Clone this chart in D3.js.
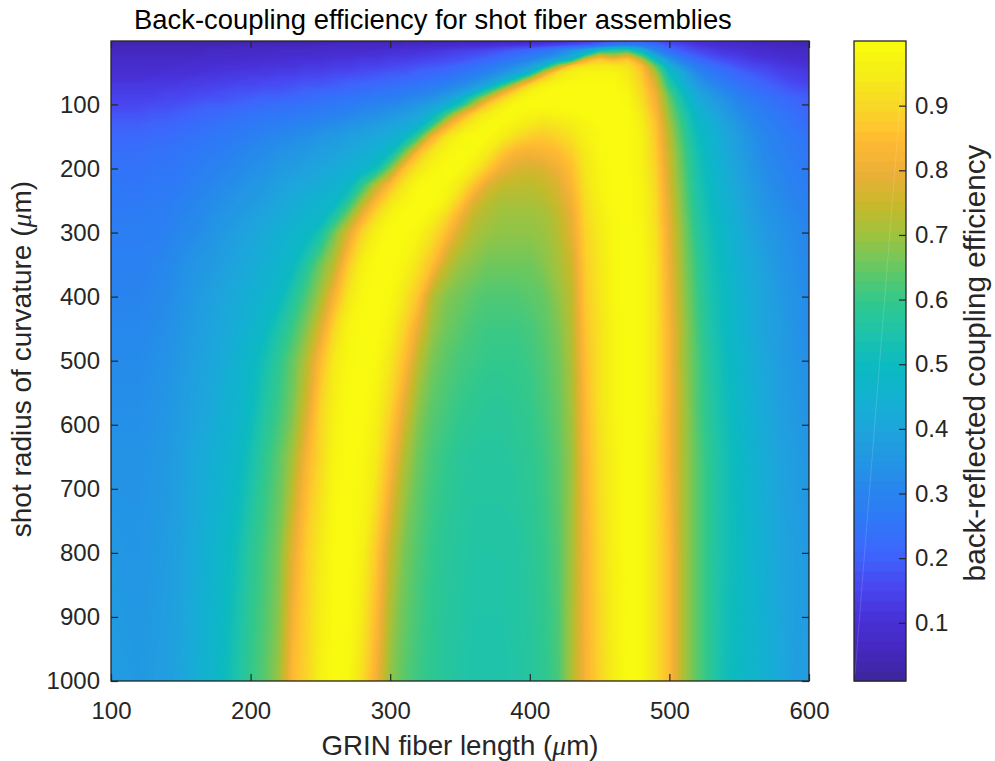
<!DOCTYPE html>
<html>
<head>
<meta charset="utf-8">
<script src="https://cdn.jsdelivr.net/npm/d3@7"></script>
<style>
  html, body { margin: 0; padding: 0; background: #fff; }
  text { font-family: "Liberation Sans", Arial, sans-serif; fill: #262626; }
</style>
</head>
<body>
<script>
// GRIN fiber length samples (um), 100 to 600 every 10
var lengths = [100, 110, 120, 130, 140, 150, 160, 170, 180, 190,
               200, 210, 220, 230, 240, 250, 260, 270, 280, 290,
               300, 310, 320, 330, 340, 350, 360, 370, 380, 390,
               400, 410, 420, 430, 440, 450, 460, 470, 480, 490,
               500, 510, 520, 530, 540, 550, 560, 570, 580, 590, 600];

// shot radius of curvature samples (um)
var radii = [1, 8, 15, 22, 30, 40, 50, 60, 70, 80, 90, 100, 115, 130, 150, 175, 200,
             225, 250, 275, 300, 350, 400, 450, 500, 575, 650, 800, 1000];

// efficiency in percent, one row per radius
var efficiency = [
  [2,2,2,2,2,2,2,2,2,2, 2,2,2,2,2,2,3,3,3,3, 3,3,3,3,3,4,4,4,5,5, 6,7,8,9,11,13,16,18,18,16, 13,11,9,8,7,6,5,4,4,3, 3],
  [4,4,4,4,4,4,4,4,4,5, 5,5,5,5,5,6,6,6,6,6, 6,7,7,8,8,9,9,10,11,12, 13,14,16,18,20,24,28,30,28,24, 18,15,12,10,9,8,7,6,5,5, 4],
  [5,5,5,5,5,5,5,6,6,6, 6,6,7,7,7,7,8,8,8,9, 9,10,10,11,12,13,14,15,17,19, 21,24,28,34,40,50,56,56,44,30, 22,18,15,13,11,10,9,8,7,6, 6],
  [6,6,6,6,6,6,6,7,7,7, 7,8,8,8,8,9,9,9,10,10, 11,11,12,13,14,15,16,18,20,22, 25,28,33,39,52,72,68,74,58,38, 28,22,18,15,13,12,10,9,8,8, 7],
  [7,7,7,7,7,7,8,8,8,8, 9,9,9,10,10,10,11,11,12,12, 13,13,14,15,16,17,19,21,24,27, 30,35,41,50,80,88,84,88,74,50, 35,27,22,18,16,14,12,11,10,9, 8],
  [8,8,8,8,8,9,9,9,10,10, 10,11,11,11,12,12,13,13,14,14, 15,16,17,18,19,21,23,26,29,33, 38,47,70,89,94,95,95,93,85,65, 44,34,27,23,20,17,15,14,12,11, 10],
  [9,9,9,9,10,10,10,11,11,12, 12,12,13,13,14,14,15,15,16,17, 18,18,20,21,22,24,27,30,34,39, 46,75,92,97,98,98,98,95,88,72, 50,40,31,26,23,20,18,16,14,13, 12],
  [10,10,10,11,11,11,12,12,13,13, 14,14,15,15,16,16,17,18,18,19, 20,21,22,24,25,28,31,35,41,52, 74,90,96,98,99,99,99,96,89,76, 54,43,34,29,25,22,20,18,16,14, 13],
  [12,12,12,12,12,13,13,14,14,15, 15,16,16,17,18,18,19,20,21,22, 23,24,25,27,29,32,36,42,57,77, 91,97,99,100,100,100,100,97,90,78, 58,46,37,32,28,25,22,20,18,16, 15],
  [13,13,13,13,14,14,15,15,16,17, 17,18,18,19,20,21,21,22,23,24, 25,27,28,30,33,37,44,59,77,90, 97,99,100,100,100,100,100,98,91,81, 62,49,40,35,31,27,24,22,20,18, 17],
  [14,14,14,14,15,15,16,17,17,18, 19,20,20,21,22,23,24,25,26,27, 28,30,32,34,38,45,60,76,89,96, 99,100,100,100,100,100,100,99,92,82, 65,52,42,37,33,29,26,24,22,20, 19],
  [15,15,15,16,16,17,18,19,19,20, 21,22,23,23,24,25,26,27,29,30, 31,33,35,38,43,54,72,88,95,99, 100,100,100,100,100,100,100,99,93,83, 67,54,44,39,35,31,28,25,23,21, 20],
  [17,17,17,18,18,19,20,21,22,23, 24,25,25,26,27,28,29,30,32,33, 35,37,40,46,60,78,90,96,99,99, 98,97,98,99,100,100,100,100,95,85, 69,57,47,42,37,33,30,27,25,23, 21],
  [19,19,19,20,20,21,22,23,24,25, 26,27,28,29,30,31,32,34,35,37, 39,41,44,57,78,90,96,99,99,97, 95,93,94,96,98,100,100,100,96,87, 71,59,49,44,39,35,31,29,26,24, 22],
  [21,21,21,22,22,23,24,25,26,27, 28,30,31,32,33,35,36,38,39,41, 43,47,60,82,93,98,100,99,96,92, 89,88,90,93,97,99,100,100,97,88, 73,61,51,46,41,37,33,30,28,26, 24],
  [23,23,23,24,24,25,26,27,28,30, 31,32,34,35,36,38,39,41,43,45, 50,66,85,94,98,100,99,95,88,83, 82,83,85,89,95,99,100,100,97,89, 75,63,53,47,42,38,34,31,29,27, 25],
  [25,24,24,25,25,26,27,29,30,31, 33,34,36,37,39,40,42,44,46,52, 67,86,94,98,100,99,95,88,81,78, 77,78,81,86,94,98,100,100,97,90, 76,64,54,48,43,39,35,32,30,28, 26],
  [26,25,25,26,26,27,29,30,32,33, 35,36,38,40,41,43,45,48,59,73, 85,94,99,100,99,95,87,79,75,74, 74,75,78,84,93,98,100,100,98,91, 77,65,55,49,44,40,36,33,31,29, 27],
  [26,26,26,27,27,29,30,32,33,35, 36,38,40,42,44,46,47,57,71,84, 93,98,100,100,97,89,79,74,72,72, 72,73,76,82,92,97,100,100,98,92, 78,66,56,50,45,41,37,34,32,30, 28],
  [27,27,27,28,28,30,31,33,35,36, 38,40,42,44,46,47,56,68,82,92, 98,100,100,97,91,82,74,72,70,70, 70,71,74,80,91,96,99,100,98,92, 79,67,57,51,46,42,38,35,33,31, 29],
  [28,28,28,28,29,31,32,34,36,38, 40,42,44,46,48,54,66,78,90,97, 100,100,98,93,86,77,72,70,69,69, 69,70,73,79,90,95,99,100,99,93, 80,68,58,52,47,43,39,36,34,32, 30],
  [29,29,29,30,31,33,35,36,38,40, 42,44,46,49,57,66,74,88,97,100, 100,98,93,86,75,70,68,66,66,66, 66,68,71,76,89,94,99,100,99,94, 81,69,60,53,49,44,41,38,35,33, 31],
  [30,30,30,31,32,34,36,38,40,42, 44,46,49,56,63,71,83,94,99,100, 99,94,87,73,68,66,64,63,63,63, 64,65,69,74,88,94,99,100,99,94, 82,70,61,54,50,45,42,39,36,34, 32],
  [31,31,31,32,33,35,37,39,41,43, 46,49,55,61,68,78,91,98,100,100, 97,90,80,70,66,64,62,61,61,61, 62,64,67,73,87,93,98,100,99,94, 83,71,62,55,50,46,42,39,37,34, 32],
  [32,32,32,33,34,36,38,40,42,45, 48,53,59,65,73,85,95,99,100,99, 94,86,74,67,64,62,61,60,60,60, 61,63,66,72,86,93,98,100,99,94, 83,71,63,56,51,47,43,40,37,35, 33],
  [33,33,33,34,35,37,39,41,44,46, 50,56,61,67,77,90,97,100,100,97, 90,79,69,64,62,60,59,58,58,59, 60,62,65,71,85,93,98,100,99,94, 83,72,63,57,52,48,44,41,38,36, 34],
  [34,34,34,35,36,38,41,43,45,48, 53,59,64,71,83,91,98,100,99,95, 85,73,66,62,60,58,57,57,57,58, 59,61,64,70,84,92,97,100,99,93, 83,72,64,58,53,49,45,42,39,37, 35],
  [36,35,35,36,37,39,42,45,48,52, 58,62,67,79,89,95,100,100,97,88, 75,67,63,60,58,57,56,56,56,56, 58,60,63,71,83,91,97,100,99,93, 85,72,64,58,53,50,46,43,40,38, 36],
  [37,37,36,37,38,40,43,46,50,55, 60,64,70,85,90,97,100,99,92,82, 69,64,61,59,57,56,55,55,55,56, 57,59,62,72,83,90,96,100,99,93, 85,72,64,58,52,49,47,44,41,38, 37]
];

// colormap
var colorStops = [.01, .05, .1, .15, .2, .25, .3, .35, .4, .45, .5, .55, .6, .65, .7, .75, .8, .85, .9, .95, 1];
var colorValues = ["#3e26a0", "#4428be", "#4830d7", "#4846f0", "#3e64fc", "#3076f8", "#2884ee", "#2396e4",
                   "#1ea5dc", "#12b2d0", "#0cbac0", "#1ec3aa", "#32c88c", "#64c864", "#9bc341", "#c6b92a",
                   "#ebaf37", "#ffba32", "#fad428", "#f5eb19", "#f9fb0e"];

var xTicks = [100, 200, 300, 400, 500, 600];
var yTicks = [100, 200, 300, 400, 500, 600, 700, 800, 900, 1000];
var barTicks = [.1, .2, .3, .4, .5, .6, .7, .8, .9];

// plot and colorbar boxes
var w = 995, h = 761;
var plot = { left: 111, right: 809, top: 41, bottom: 681 };
var bar = { left: 854, right: 906, top: 41, bottom: 681 };
var axisColor = "#262626";

var svg = d3.select("body").append("svg")
    .attr("width", w)
    .attr("height", h)
    .style("display", "block");

var x = d3.scaleLinear().domain([100, 600]).range([plot.left, plot.right]);
var y = d3.scaleLinear().domain([1, 1000]).range([plot.top, plot.bottom]);
var color = d3.scaleLinear().domain(colorStops).range(colorValues).clamp(true);
var barY = d3.scaleLinear().domain([.01, 1]).range([bar.bottom, bar.top]);

// d3.contours puts sample i at i + 0.5, so map grid coordinates back to data units
var gridX = d3.scaleLinear().domain(lengths.map(function (d, i) { return i + .5; })).range(lengths).clamp(true);
var gridY = d3.scaleLinear().domain(radii.map(function (d, i) { return i + .5; })).range(radii).clamp(true);

var gridPath = d3.geoPath(d3.geoTransform({
    point: function (px, py) {
        this.stream.point(x(gridX(px)), y(gridY(py)));
    }
}));

var step = .005;
var values = d3.merge(efficiency).map(function (v) { return v / 100; });
var contours = d3.contours()
    .size([lengths.length, radii.length])
    .smooth(true)
    .thresholds(d3.range(0, 1, step))(values);

svg.append("g").selectAll("path")
    .data(contours)
    .enter()
    .append("path")
    .attr("d", gridPath)
    .attr("fill", function (d) { return color(d.value + step / 2); });

// MATLAB style box with inward ticks
function box(left, right, top, bottom) {
    svg.append("rect")
        .attr("x", left).attr("y", top)
        .attr("width", right - left).attr("height", bottom - top)
        .attr("fill", "none")
        .attr("stroke", axisColor)
        .attr("stroke-width", 1.3);
}

function styleAxis(g) {
    g.select(".domain").remove();
    g.selectAll(".tick line").attr("stroke", axisColor).attr("stroke-width", 1.2);
    g.selectAll(".tick text").attr("fill", axisColor).style("font-size", "24px");
}

box(plot.left, plot.right, plot.top, plot.bottom);

svg.append("g")
    .attr("transform", "translate(0," + plot.bottom + ")")
    .call(d3.axisBottom(x).tickValues(xTicks).tickFormat(d3.format("d")).tickSize(-7).tickPadding(21))
    .call(styleAxis);
svg.append("g")
    .attr("transform", "translate(0," + plot.top + ")")
    .call(d3.axisTop(x).tickValues(xTicks).tickFormat("").tickSize(-7))
    .call(styleAxis);
svg.append("g")
    .attr("transform", "translate(" + plot.left + ",0)")
    .call(d3.axisLeft(y).tickValues(yTicks).tickFormat(d3.format("d")).tickSize(-7).tickPadding(11))
    .call(styleAxis);
svg.append("g")
    .attr("transform", "translate(" + plot.right + ",0)")
    .call(d3.axisRight(y).tickValues(yTicks).tickFormat("").tickSize(-7))
    .call(styleAxis);

// colorbar, 64 levels like the colormap
var levels = d3.range(64);
var barBand = d3.scaleBand().domain(levels).range([bar.bottom, bar.top]);
var levelValue = d3.scaleLinear().domain([0, 63]).range([.01, 1]);

svg.append("g").selectAll("rect")
    .data(levels)
    .enter()
    .append("rect")
    .attr("x", bar.left)
    .attr("y", function (d) { return barBand(d); })
    .attr("width", bar.right - bar.left)
    .attr("height", barBand.bandwidth() + .5)
    .attr("fill", function (d) { return color(levelValue(d)); });

// faint seam that runs across the bar in the original
svg.append("line")
    .attr("x1", bar.left + 1).attr("y1", barY(.02))
    .attr("x2", bar.right - 3).attr("y2", barY(.96))
    .attr("stroke", "#fff")
    .attr("stroke-opacity", .15)
    .attr("stroke-width", 1);

box(bar.left, bar.right, bar.top, bar.bottom);

svg.append("g")
    .attr("transform", "translate(" + bar.right + ",0)")
    .call(d3.axisRight(barY).tickValues(barTicks).tickFormat(d3.format(".1f")).tickSize(-7).tickPadding(9))
    .call(styleAxis);

// labels
svg.append("text")
    .attr("x", 134).attr("y", 29)
    .style("font-size", "27.4px")
    .style("fill", "#000")
    .text("Back-coupling efficiency for shot fiber assemblies");

function umLabel(sel, before) {
    sel.append("tspan").text(before + " (");
    sel.append("tspan").style("font-family", "'Liberation Serif', serif").style("font-style", "italic").text("\u03bc");
    sel.append("tspan").text("m)");
}

svg.append("text")
    .attr("x", 460).attr("y", 755)
    .attr("text-anchor", "middle")
    .style("font-size", "27.7px")
    .call(umLabel, "GRIN fiber length");

svg.append("text")
    .attr("transform", "translate(31,359) rotate(-90)")
    .attr("text-anchor", "middle")
    .style("font-size", "28px")
    .call(umLabel, "shot radius of curvature");

svg.append("text")
    .attr("transform", "translate(985,363) rotate(-90)")
    .attr("text-anchor", "middle")
    .style("font-size", "29.7px")
    .text("back-reflected coupling efficiency");
</script>
</body>
</html>
